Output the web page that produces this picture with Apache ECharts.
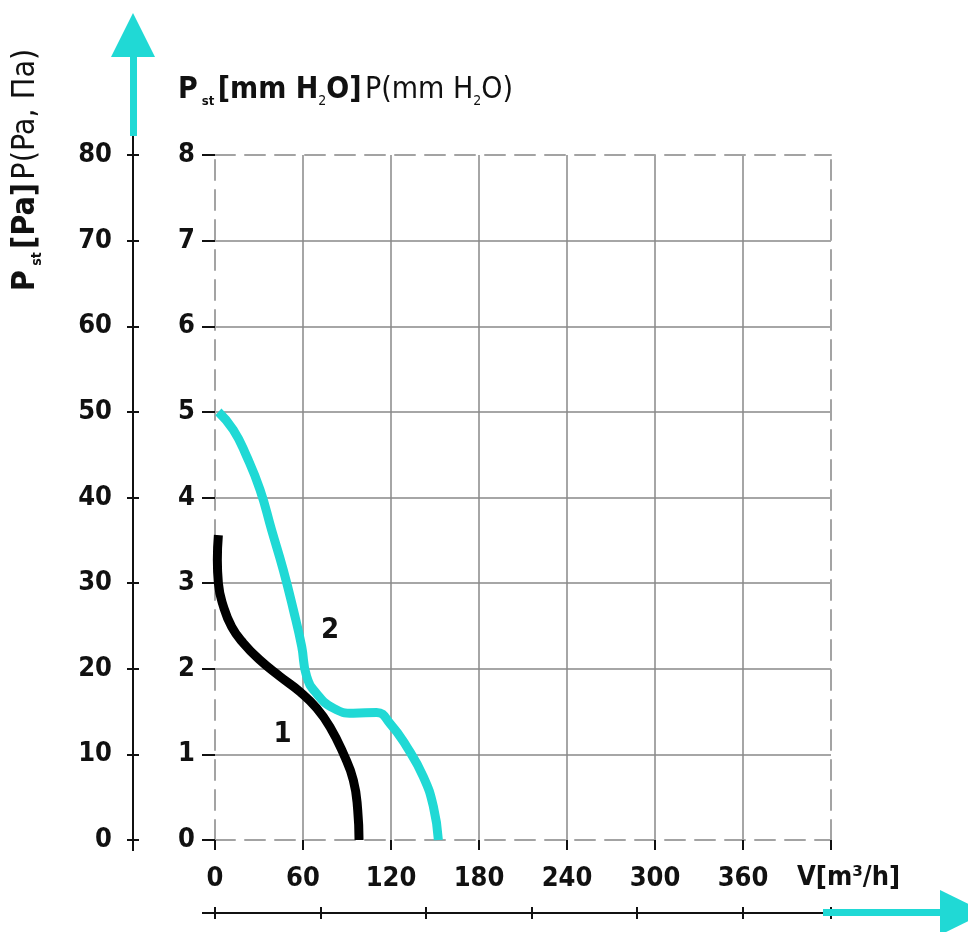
<!DOCTYPE html>
<html>
<head>
<meta charset="utf-8">
<script src="https://cdn.jsdelivr.net/npm/echarts@6/dist/echarts.min.js"></script>
<style>
html,body{margin:0;padding:0;background:#fff;}
#chart{width:968px;height:932px;}
</style>
</head>
<body>
<div id="chart"></div>
<script>
// ---- data ----
var xTicks = [0, 60, 120, 180, 240, 300, 360];
var mmTicks = [0, 1, 2, 3, 4, 5, 6, 7, 8];
var paTicks = [0, 10, 20, 30, 40, 50, 60, 70, 80];
var curve1 = [[2.3,3.56],[1.6,3.27],[2.3,3.0],[5.7,2.73],[11.4,2.49],[19.3,2.30],[30.7,2.10],[44.3,1.91],[58,1.73],[69.3,1.54],[78.4,1.32],[87.5,1.01],[94.3,0.70],[97.3,0.35],[98.2,0]];
var curve2 = [[2.3,5.0],[12.5,4.79],[21.6,4.48],[30.7,4.09],[38.6,3.62],[46.6,3.15],[53.4,2.69],[59.1,2.26],[62.5,1.91],[69.3,1.71],[80.7,1.54],[94.3,1.48],[110.2,1.49],[119.3,1.36],[130.7,1.09],[142,0.74],[148.9,0.39],[152.3,0]];
var label1 = [46, 1.23];
var label2 = [78.4, 2.45];

var FONT = "'Liberation Sans Narrow','DejaVu Sans Condensed',sans-serif";
var CYAN = '#20d9d5';
var GRID = '#888888';
var DASH = '#a3a3a3';
var DASHTYPE = [20, 10];

var chart = echarts.init(document.getElementById('chart'));
var lblStyle = {fontFamily: FONT, fontWeight: 'bold', fontSize: 27, color: '#111'};

var option = {
  animation: false,
  backgroundColor: '#fff',
  grid: {left: 215, right: 137, top: 155, bottom: 92, containLabel: false},
  xAxis: [
    {type: 'value', position: 'bottom', min: 0, max: 420, interval: 60,
     axisLine: {show: true, onZero: false, lineStyle: {color: DASH, width: 2, type: DASHTYPE}},
     axisTick: {show: true, length: 10, lineStyle: {color: '#111', width: 2}},
     axisLabel: Object.assign({margin: 25, formatter: function(v){ return xTicks.indexOf(v) >= 0 ? String(v) : ''; }}, lblStyle),
     splitLine: {show: true, showMinLine: false, showMaxLine: false, lineStyle: {color: GRID, width: 1.5}}},
    {type: 'value', position: 'top', min: 0, max: 420, interval: 60,
     axisLine: {show: true, onZero: false, lineStyle: {color: DASH, width: 2, type: DASHTYPE}},
     axisTick: {show: false}, axisLabel: {show: false}, splitLine: {show: false}},
    {type: 'value', position: 'bottom', offset: 73, min: 0, max: 5.84, interval: 1,
     axisLine: {show: true, onZero: false, lineStyle: {color: '#111', width: 2}},
     axisTick: {show: true, length: 6, lineStyle: {color: '#111', width: 2}},
     axisLabel: {show: false}, splitLine: {show: false}},
    {type: 'value', position: 'bottom', offset: 73, min: 0, max: 5.84, interval: 1,
     axisLine: {show: false, onZero: false},
     axisTick: {show: true, inside: true, length: 6, lineStyle: {color: '#111', width: 2}},
     axisLabel: {show: false}, splitLine: {show: false}}
  ],
  yAxis: [
    {type: 'value', position: 'left', min: 0, max: 8, interval: 1,
     axisLine: {show: true, onZero: false, lineStyle: {color: DASH, width: 2, type: DASHTYPE}},
     axisTick: {show: true, length: 13, lineStyle: {color: '#111', width: 2}},
     axisLabel: Object.assign({margin: 20, formatter: function(v){ return mmTicks.indexOf(v) >= 0 ? String(v) : ''; }}, lblStyle),
     splitLine: {show: true, showMinLine: false, showMaxLine: false, lineStyle: {color: GRID, width: 1.5}}},
    {type: 'value', position: 'right', min: 0, max: 8, interval: 1,
     axisLine: {show: true, onZero: false, lineStyle: {color: DASH, width: 2, type: DASHTYPE}},
     axisTick: {show: false}, axisLabel: {show: false}, splitLine: {show: false}},
    {type: 'value', position: 'left', offset: 82, min: 0, max: 80, interval: 10,
     axisLine: {show: true, onZero: false, lineStyle: {color: '#111', width: 2}},
     axisTick: {show: true, length: 6, lineStyle: {color: '#111', width: 2}},
     axisLabel: Object.assign({margin: 21, formatter: function(v){ return paTicks.indexOf(v) >= 0 ? String(v) : ''; }}, lblStyle),
     splitLine: {show: false}},
    {type: 'value', position: 'left', offset: 82, min: 0, max: 80, interval: 10,
     axisLine: {show: false, onZero: false},
     axisTick: {show: true, inside: true, length: 6, lineStyle: {color: '#111', width: 2}},
     axisLabel: {show: false}, splitLine: {show: false}}
  ],
  series: [
    {name: '1', type: 'line', xAxisIndex: 0, yAxisIndex: 0, data: curve1, smooth: 0.5,
     showSymbol: false, symbol: 'none', lineStyle: {color: '#000', width: 9}, z: 5,
     markPoint: {symbol: 'circle', symbolSize: 0, silent: true,
       label: {show: true, position: 'inside', formatter: '1', fontFamily: FONT, fontWeight: 'bold', fontSize: 29, color: '#111'},
       data: [{coord: label1}]}},
    {name: '2', type: 'line', xAxisIndex: 0, yAxisIndex: 0, data: curve2, smooth: 0.5,
     showSymbol: false, symbol: 'none', lineStyle: {color: CYAN, width: 9}, z: 6,
     markPoint: {symbol: 'circle', symbolSize: 0, silent: true,
       label: {show: true, position: 'inside', formatter: '2', fontFamily: FONT, fontWeight: 'bold', fontSize: 29, color: '#111'},
       data: [{coord: label2}]}}
  ],
  graphic: [
    {type: 'line', shape: {x1: 133, y1: 134, x2: 133, y2: 155}, style: {stroke: '#111', lineWidth: 2}, z: 10},
    {type: 'line', shape: {x1: 133, y1: 840, x2: 133, y2: 851}, style: {stroke: '#111', lineWidth: 2}, z: 10},
    {type: 'line', shape: {x1: 202, y1: 913, x2: 215, y2: 913}, style: {stroke: '#111', lineWidth: 2}, z: 10},
    {type: 'rect', shape: {x: 130, y: 54, width: 7, height: 82}, style: {fill: CYAN}, z: 11},
    {type: 'polygon', shape: {points: [[133, 13], [111, 57], [155, 57]]}, style: {fill: CYAN}, z: 11},
    {type: 'rect', shape: {x: 823, y: 909, width: 120, height: 7}, style: {fill: CYAN}, z: 11},
    {type: 'polygon', shape: {points: [[940, 890], [940, 935], [986, 912.5]]}, style: {fill: CYAN}, z: 11},
    {type: 'text', left: 178, top: 75, z: 12,
     style: {text: '{b|P}{s| st} {b|[mm H}{s2|2}{b|O]} {r|P(mm H}{s2|2}{r|O)}',
       rich: {
         b: {fontFamily: FONT, fontWeight: 'bold', fontSize: 30, fill: '#111', lineHeight: 36},
         r: {fontFamily: FONT, fontSize: 30, fill: '#111', lineHeight: 36},
         s: {fontFamily: FONT, fontWeight: 'bold', fontSize: 13, fill: '#111', verticalAlign: 'bottom', padding: [14, 0, 0, 0], lineHeight: 36},
         s2: {fontFamily: FONT, fontSize: 14, fill: '#111', verticalAlign: 'bottom', padding: [12, 0, 0, 0], lineHeight: 36}
       }}},
    {type: 'text', x: 26, y: 170, rotation: Math.PI / 2, z: 12,
     style: {text: '{b|P}{s| st} {b|[Pa]} {r|P(Pa, Па)}', align: 'center', verticalAlign: 'middle',
       rich: {
         b: {fontFamily: FONT, fontWeight: 'bold', fontSize: 32, fill: '#111', lineHeight: 36},
         r: {fontFamily: FONT, fontSize: 32, fill: '#111', lineHeight: 36},
         s: {fontFamily: FONT, fontWeight: 'bold', fontSize: 14, fill: '#111', verticalAlign: 'bottom', padding: [14, 0, 0, 0], lineHeight: 36}
       }}},
    {type: 'text', left: 797, top: 864, z: 12,
     style: {text: '{b|V[m³/h]}',
       rich: {b: {fontFamily: FONT, fontWeight: 'bold', fontSize: 27, fill: '#111'}}}}
  ]
};
chart.setOption(option);
</script>
</body>
</html>
